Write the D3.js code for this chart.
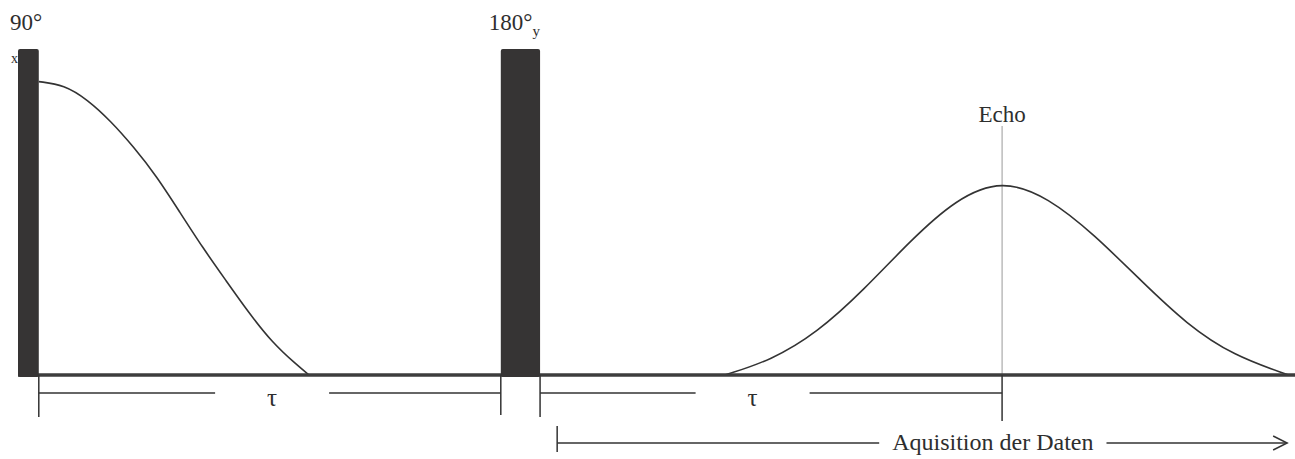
<!DOCTYPE html>
<html>
<head>
<meta charset="utf-8">
<script src="https://cdn.jsdelivr.net/npm/d3@7"></script>
<style>
  body { margin: 0; background: #fff; }
  text { font-family: "Liberation Serif", "Times New Roman", serif; fill: #2e2e2e; }
</style>
</head>
<body>
<div id="chart"></div>
<script>
// time in ms (tau = 10), amplitude relative to pulse height
const pulseLabels = ['90°', '180°'];
const pulseSubs = ['x', 'y'];
const pulseStart = [0, 10.45];
const pulseEnd = [0.45, 11.3];

const fidTime = [0.45, 1, 1.5, 2, 2.5, 3, 3.5, 4, 4.5, 5, 5.5, 6, 6.3];
const fidAmp = [0.9, 0.89, 0.845, 0.78, 0.7, 0.61, 0.5, 0.39, 0.29, 0.19, 0.1, 0.035, 0];

const echoTime = [15.3, 16.3, 17.3, 18.3, 19.3, 20.3, 21.3, 22.3, 23.3, 24.3, 25.3, 26.3, 27.5];
const echoAmp = [0, 0.045, 0.13, 0.26, 0.41, 0.54, 0.6, 0.545, 0.43, 0.29, 0.155, 0.06, 0];
const echoPeak = 21.3;

const tauSpans = [[0.45, 10.45], [11.3, 21.3]];
const tauLabelAt = [5.5, 15.9];
const tauLabel = 'τ';

const acqStart = 11.67;
const acqEnd = 27.47;
const acqLabelAt = 21.1;
const acqLabel = 'Aquisition der Daten';
const echoLabel = 'Echo';

const width = 1295;
const height = 459;
const baseY = 375;
const tauY = 393;
const acqY = 443;

const svg = d3.select('#chart')
  .append('svg')
  .attr('width', width)
  .attr('height', height);

const x = d3.scaleLinear().domain([0, 27.64]).range([18, 1295]);
const y = d3.scaleLinear().domain([0, 1]).range([baseY, 49]);

const ink = '#333';

// 90° subscript sits left of the bar, partly hidden by it
svg.append('text')
  .attr('x', 11)
  .attr('y', 63)
  .style('font-size', '14px')
  .text(pulseSubs[0]);

// echo marker line
svg.append('line')
  .attr('x1', x(echoPeak)).attr('x2', x(echoPeak))
  .attr('y1', 126).attr('y2', baseY)
  .attr('stroke', '#9a9a9a')
  .attr('stroke-width', 1);

svg.append('text')
  .attr('x', x(echoPeak))
  .attr('y', 122)
  .attr('text-anchor', 'middle')
  .style('font-size', '23px')
  .text(echoLabel);

// curves
const line = d3.line()
  .x((d) => x(d[0]))
  .y((d) => y(d[1]))
  .curve(d3.curveBasis);

svg.append('path')
  .datum(d3.zip(fidTime, fidAmp))
  .attr('fill', 'none')
  .attr('stroke', ink)
  .attr('stroke-width', 1.6)
  .attr('d', line);

svg.append('path')
  .datum(d3.zip(echoTime, echoAmp))
  .attr('fill', 'none')
  .attr('stroke', ink)
  .attr('stroke-width', 1.6)
  .attr('d', line);

// baseline
svg.append('line')
  .attr('x1', x(0)).attr('x2', x.range()[1])
  .attr('y1', baseY).attr('y2', baseY)
  .attr('stroke', '#3d3d3d')
  .attr('stroke-width', 3.5);

// pulses
pulseLabels.forEach((label, i) => {
  svg.append('rect')
    .attr('x', x(pulseStart[i]))
    .attr('y', y(1))
    .attr('width', x(pulseEnd[i]) - x(pulseStart[i]))
    .attr('height', y(0) - y(1) + 2)
    .attr('rx', 2)
    .attr('fill', '#363434');

  const t = svg.append('text')
    .attr('x', x(pulseStart[i]) - (i === 0 ? 8 : 12))
    .attr('y', 30)
    .style('font-size', '23px');
  t.append('tspan').text(label);
  if (i > 0) {
    t.append('tspan')
      .attr('dy', 6)
      .style('font-size', '15px')
      .text(pulseSubs[i]);
  }
});

// tau spans
const tick = (xPos, y1, y2) =>
  svg.append('line')
    .attr('x1', xPos).attr('x2', xPos)
    .attr('y1', y1).attr('y2', y2)
    .attr('stroke', ink)
    .attr('stroke-width', 1.5);

tauSpans.forEach((span, i) => {
  const x0 = x(span[0]);
  const x1 = x(span[1]);
  const xm = x(tauLabelAt[i]);
  const gap = 57;
  tick(x0, baseY, 417);
  tick(x1, baseY, i === 1 ? 421 : 415);
  svg.append('line')
    .attr('x1', x0).attr('x2', xm - gap)
    .attr('y1', tauY).attr('y2', tauY)
    .attr('stroke', ink).attr('stroke-width', 1.5);
  svg.append('line')
    .attr('x1', xm + gap).attr('x2', x1)
    .attr('y1', tauY).attr('y2', tauY)
    .attr('stroke', ink).attr('stroke-width', 1.5);
  svg.append('text')
    .attr('x', xm)
    .attr('y', 406)
    .attr('text-anchor', 'middle')
    .style('font-size', '25px')
    .text(tauLabel);
});

// acquisition arrow
const acqText = svg.append('text')
  .attr('x', x(acqLabelAt))
  .attr('y', 450)
  .attr('text-anchor', 'middle')
  .style('font-size', '24px')
  .text(acqLabel);
const half = acqText.node().getComputedTextLength() / 2;
const pad = 13;

tick(x(acqStart), 426, 452);
svg.append('line')
  .attr('x1', x(acqStart)).attr('x2', x(acqLabelAt) - half - pad)
  .attr('y1', acqY).attr('y2', acqY)
  .attr('stroke', ink).attr('stroke-width', 1.5);
svg.append('line')
  .attr('x1', x(acqLabelAt) + half + pad).attr('x2', x(acqEnd))
  .attr('y1', acqY).attr('y2', acqY)
  .attr('stroke', ink).attr('stroke-width', 1.5);
svg.append('path')
  .attr('d', `M${x(acqEnd) - 14},${acqY - 7}L${x(acqEnd)},${acqY}L${x(acqEnd) - 14},${acqY + 7}`)
  .attr('fill', 'none')
  .attr('stroke', ink)
  .attr('stroke-width', 1.5);
</script>
</body>
</html>
